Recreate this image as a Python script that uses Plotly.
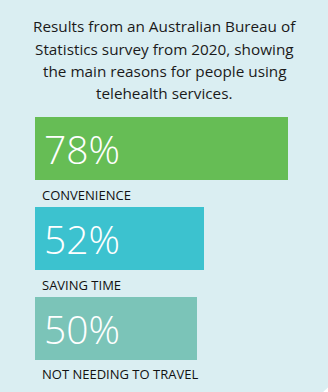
import plotly.graph_objects as go

categories = ["CONVENIENCE", "SAVING TIME", "NOT NEEDING TO TRAVEL"]
values = [78, 52, 50]
value_labels = ["78%", "52%", "50%"]
colors = ["#66BD55", "#3CC2CF", "#7BC4B8"]

title_lines = [
    "Results from an Australian Bureau of",
    "Statistics survey from 2020, showing",
    "the main reasons for people using",
    "telehealth services.",
]

W, H = 328, 392
ML, MR, MT, MB = 35, 0, 104, 19
PW, PH = W - ML - MR, H - MT - MB

ypos = list(range(len(categories)))

fig = go.Figure()
fig.add_trace(go.Bar(
    x=values, y=ypos, orientation="h",
    marker=dict(color=colors, line=dict(width=0)),
    width=0.703, hoverinfo="skip", showlegend=False,
))

annotations = []
for i, (lab, vl) in enumerate(zip(categories, value_labels)):
    annotations.append(dict(
        x=0, y=i, xref="x", yref="y", text=vl, showarrow=False,
        xanchor="left", yanchor="middle", xshift=7, yshift=0,
        font=dict(family="Open Sans", size=39, color="white", weight=300),
    ))
    annotations.append(dict(
        x=0, y=i, xref="x", yref="y", text=lab, showarrow=False,
        xanchor="left", yanchor="middle", xshift=5, yshift=-46,
        font=dict(family="Open Sans", size=13, color="#111111", weight=500),
    ))

# title lines, centred on the full page width
centre_x = (W / 2 - ML) / PW
line_centres_px = [26.5, 48.8, 71.1, 93.4]
for line, cy in zip(title_lines, line_centres_px):
    annotations.append(dict(
        x=centre_x, y=(H - MB - cy) / PH, xref="paper", yref="paper",
        xanchor="center", yanchor="middle", text=line, showarrow=False,
        font=dict(family="Open Sans", size=15.3, color="#1a1a1a", weight=500),
    ))

fig.update_layout(
    width=W, height=H,
    margin=dict(l=ML, r=MR, t=MT, b=MB),
    paper_bgcolor="#DAEEF2", plot_bgcolor="#DAEEF2",
    xaxis=dict(range=[0, 90.3], visible=False, fixedrange=True),
    yaxis=dict(range=[2.5, -0.5], visible=False, fixedrange=True),
    annotations=annotations,
    bargap=0,
    shapes=[dict(
        type="path", xref="paper", yref="paper", layer="above",
        path="M {x0} {y0} L {x1} {y0} L {x1} {y1} Z".format(
            x0=(W - 6 - ML) / PW, x1=1.01,
            y0=(H - MB - H - 1) / PH, y1=(H - MB - (H - 7)) / PH),
        fillcolor="white", line=dict(width=0),
    )],
)

fig.write_html("out.html", config={"displayModeBar": False})
